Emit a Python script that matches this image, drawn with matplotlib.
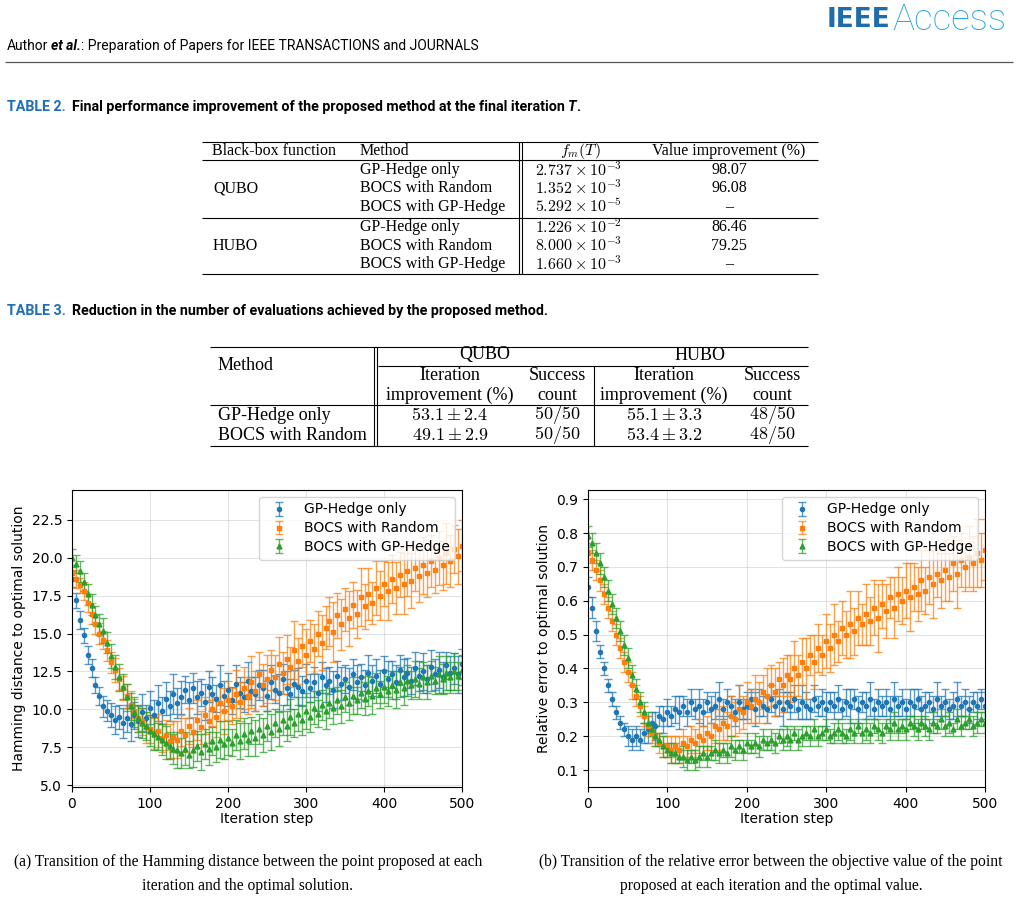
import matplotlib
matplotlib.use("Agg")
from matplotlib import pyplot as plt
from matplotlib.colors import to_rgba

plt.rcParams['mathtext.fontset'] = 'cm'

# iteration steps (sampled every 5 steps)
steps = list(range(0, 501, 5))

# Hamming distance to optimal solution
ham_gp = [18.6, 17.2, 15.9, 14.9, 13.6, 12.7, 11.6, 10.9, 10.2, 9.9,
          9.6, 9.3, 9.5, 9.1, 9.4, 9.0, 9.6, 9.2, 9.8, 9.4,
          10.1, 9.6, 10.4, 9.9, 10.7, 10.2, 11.0, 10.4, 10.8, 11.3,
          10.6, 11.4, 10.8, 11.1, 10.5, 11.5, 11.0, 10.7, 11.6, 10.9,
          11.3, 10.6, 11.7, 11.1, 10.8, 11.9, 11.2, 11.0, 11.6, 11.4,
          10.9, 11.8, 11.3, 11.1, 12.0, 11.4, 11.0, 11.7, 11.5, 11.2,
          11.9, 11.4, 11.8, 11.1, 12.1, 11.6, 11.9, 11.3, 12.2, 11.7,
          12.0, 11.5, 12.3, 11.8, 12.1, 11.6, 12.4, 11.9, 12.2, 11.7,
          12.5, 12.0, 12.3, 11.8, 12.6, 12.1, 12.4, 11.9, 12.7, 12.2,
          12.5, 12.0, 12.8, 12.3, 12.6, 12.1, 12.9, 12.4, 12.7, 12.3,
          13.0]
ham_gp_err = [0.5, 0.5, 0.6, 0.5, 0.6, 0.6, 0.5, 0.6, 0.7, 0.7,
              0.8, 0.9, 0.8, 1.0, 0.9, 1.1, 0.9, 1.0, 1.2, 0.9,
              1.1, 1.0, 1.2, 0.9, 1.1, 1.0, 1.3, 1.0, 1.1, 0.9,
              1.2, 1.0, 1.1, 0.9, 1.2, 1.0, 1.1, 0.9, 1.3, 1.0,
              1.1, 0.9, 1.2, 1.0, 1.0, 1.2, 0.9, 1.1, 1.0, 1.2,
              1.0, 1.1, 0.9, 1.2, 1.0, 1.1, 1.0, 0.9, 1.2, 1.0,
              1.1, 0.9, 1.0, 1.2, 1.0, 1.1, 0.9, 1.2, 1.0, 1.1,
              0.9, 1.2, 1.0, 1.1, 0.9, 1.0, 1.2, 1.0, 1.1, 0.9,
              1.0, 1.2, 0.9, 1.1, 1.0, 1.2, 1.0, 0.9, 1.1, 1.0,
              1.2, 0.9, 1.1, 1.0, 1.2, 1.0, 0.9, 1.1, 1.0, 1.2,
              1.0]
ham_rnd = [19.0, 18.6, 18.2, 17.8, 17.0, 16.3, 15.6, 15.0, 14.6, 13.9,
           13.1, 12.6, 12.0, 11.4, 10.9, 10.3, 9.9, 9.4, 9.2, 8.8,
           8.7, 8.4, 8.6, 8.1, 8.3, 7.9, 8.2, 8.0, 8.6, 8.3,
           8.9, 8.5, 9.3, 8.8, 9.6, 9.2, 10.0, 9.5, 10.4, 9.9,
           10.6, 10.2, 11.0, 10.5, 11.4, 10.9, 11.8, 11.2, 12.3, 11.6,
           12.0, 12.6, 12.1, 13.0, 12.4, 13.3, 12.8, 13.9, 13.2, 14.2,
           13.6, 14.5, 14.0, 15.0, 14.4, 15.4, 15.8, 15.1, 16.2, 15.6,
           16.6, 16.0, 16.9, 16.3, 17.4, 16.8, 17.6, 17.0, 18.0, 17.5,
           18.3, 17.8, 18.6, 18.0, 18.9, 18.3, 19.1, 18.5, 19.3, 18.8,
           19.5, 19.0, 19.8, 19.2, 20.0, 19.5, 20.3, 19.8, 20.6, 20.1,
           20.8]
ham_rnd_err = [0.5, 0.6, 0.5, 0.6, 0.6, 0.7, 0.6, 0.7, 0.6, 0.7,
               0.7, 0.8, 0.7, 0.8, 0.8, 0.9, 0.8, 0.9, 0.9, 1.0,
               0.9, 1.0, 1.1, 0.9, 1.0, 1.1, 1.0, 1.2, 1.0, 1.1,
               1.2, 1.0, 1.3, 1.1, 1.2, 1.4, 1.1, 1.3, 1.2, 1.5,
               1.3, 1.2, 1.6, 1.3, 1.4, 1.2, 1.7, 1.3, 1.5, 1.4,
               1.6, 1.3, 1.5, 1.8, 1.4, 1.6, 1.3, 1.9, 1.5, 1.4,
               1.7, 1.4, 1.6, 1.5, 1.8, 1.4, 1.6, 2.0, 1.5, 1.7,
               1.4, 1.8, 1.5, 1.6, 1.9, 1.5, 1.7, 1.4, 1.8, 1.6,
               1.5, 1.9, 1.6, 1.7, 1.5, 2.0, 1.6, 1.8, 1.5, 1.7,
               1.9, 1.6, 1.7, 1.5, 1.8, 1.6, 2.0, 1.7, 1.6, 1.8,
               1.7]
ham_bocs = [20.0, 19.6, 19.1, 18.4, 17.6, 16.9, 16.2, 15.6, 15.2, 14.4,
            13.5, 12.8, 12.1, 11.5, 10.8, 10.2, 9.8, 9.4, 9.1, 8.9,
            8.6, 8.4, 8.2, 8.0, 7.8, 7.6, 7.4, 7.3, 7.1, 7.4,
            7.0, 7.3, 7.6, 7.2, 7.7, 7.4, 7.9, 7.5, 8.0, 7.7,
            8.1, 7.8, 8.3, 7.9, 8.4, 8.0, 8.6, 8.1, 8.7, 8.3,
            8.9, 8.5, 9.1, 8.7, 9.3, 8.9, 9.5, 9.1, 9.7, 9.3,
            9.9, 9.5, 10.1, 9.7, 10.3, 9.9, 10.4, 10.1, 10.6, 10.2,
            10.8, 10.4, 10.9, 10.6, 11.1, 10.7, 11.2, 10.9, 11.4, 11.0,
            11.5, 11.2, 11.6, 11.3, 11.8, 11.4, 11.9, 11.6, 12.0, 11.7,
            12.1, 11.8, 12.2, 11.9, 12.3, 12.0, 12.4, 12.1, 12.5, 12.2,
            12.6]
ham_bocs_err = [0.6, 0.6, 0.7, 0.6, 0.7, 0.7, 0.6, 0.7, 0.8, 0.7,
                0.8, 0.8, 0.9, 0.8, 0.9, 0.9, 1.0, 0.9, 1.0, 0.9,
                1.0, 1.1, 0.9, 1.0, 1.1, 0.9, 1.0, 1.2, 1.0, 1.1,
                0.9, 1.1, 1.0, 1.2, 1.0, 1.1, 0.9, 1.0, 1.2, 1.0,
                1.1, 0.9, 1.0, 1.2, 1.0, 1.1, 0.9, 1.2, 1.0, 1.1,
                1.0, 1.2, 0.9, 1.1, 1.0, 1.0, 1.2, 0.9, 1.1, 1.0,
                1.2, 1.0, 1.1, 0.9, 1.0, 1.2, 1.0, 1.1, 0.9, 1.1,
                1.0, 1.1, 1.2, 0.9, 1.0, 1.1, 1.0, 1.2, 1.0, 0.9,
                1.1, 1.0, 0.9, 1.2, 1.0, 1.1, 1.0, 0.9, 1.2, 1.0,
                1.0, 1.1, 1.0, 0.9, 1.2, 1.0, 1.1, 1.0, 1.2, 0.9,
                1.0]

# relative error to optimal solution
rel_gp = [0.64, 0.58, 0.51, 0.45, 0.40, 0.35, 0.31, 0.27, 0.24, 0.22,
          0.20, 0.19, 0.20, 0.19, 0.21, 0.22, 0.24, 0.23, 0.26, 0.25,
          0.27, 0.26, 0.28, 0.27, 0.29, 0.27, 0.30, 0.28, 0.29, 0.27,
          0.30, 0.28, 0.29, 0.31, 0.28, 0.30, 0.29, 0.27, 0.30, 0.28,
          0.29, 0.31, 0.28, 0.30, 0.29, 0.28, 0.31, 0.29, 0.30, 0.28,
          0.30, 0.29, 0.31, 0.28, 0.30, 0.29, 0.28, 0.31, 0.29, 0.30,
          0.28, 0.30, 0.29, 0.31, 0.28, 0.30, 0.29, 0.31, 0.28, 0.30,
          0.29, 0.31, 0.28, 0.30, 0.29, 0.30, 0.28, 0.31, 0.29, 0.30,
          0.28, 0.30, 0.29, 0.31, 0.28, 0.29, 0.30, 0.28, 0.31, 0.29,
          0.30, 0.28, 0.29, 0.31, 0.29, 0.30, 0.28, 0.30, 0.29, 0.31,
          0.29]
rel_gp_err = [0.03, 0.03, 0.03, 0.02, 0.02, 0.02, 0.02, 0.02, 0.02, 0.02,
              0.03, 0.03, 0.03, 0.03, 0.03, 0.04, 0.03, 0.04, 0.03, 0.04,
              0.04, 0.03, 0.04, 0.05, 0.03, 0.04, 0.04, 0.03, 0.05, 0.04,
              0.03, 0.04, 0.04, 0.05, 0.03, 0.04, 0.03, 0.04, 0.05, 0.03,
              0.04, 0.03, 0.05, 0.04, 0.03, 0.04, 0.04, 0.03, 0.04, 0.05,
              0.03, 0.04, 0.04, 0.03, 0.05, 0.04, 0.03, 0.04, 0.03, 0.04,
              0.05, 0.03, 0.04, 0.04, 0.03, 0.04, 0.05, 0.03, 0.04, 0.03,
              0.04, 0.05, 0.03, 0.04, 0.03, 0.04, 0.04, 0.05, 0.03, 0.04,
              0.03, 0.04, 0.05, 0.03, 0.04, 0.04, 0.03, 0.04, 0.05, 0.03,
              0.04, 0.03, 0.04, 0.05, 0.03, 0.04, 0.04, 0.03, 0.04, 0.03,
              0.04]
rel_rnd = [0.74, 0.72, 0.69, 0.66, 0.62, 0.58, 0.54, 0.50, 0.46, 0.42,
           0.39, 0.35, 0.32, 0.29, 0.26, 0.23, 0.21, 0.20, 0.18, 0.17,
           0.17, 0.16, 0.17, 0.16, 0.18, 0.17, 0.19, 0.18, 0.20, 0.19,
           0.21, 0.20, 0.23, 0.22, 0.24, 0.23, 0.26, 0.25, 0.28, 0.27,
           0.30, 0.29, 0.31, 0.30, 0.33, 0.32, 0.35, 0.33, 0.37, 0.35,
           0.38, 0.37, 0.40, 0.38, 0.42, 0.40, 0.44, 0.42, 0.46, 0.44,
           0.48, 0.46, 0.50, 0.48, 0.52, 0.50, 0.53, 0.51, 0.55, 0.53,
           0.56, 0.54, 0.58, 0.55, 0.59, 0.57, 0.61, 0.58, 0.62, 0.60,
           0.63, 0.61, 0.64, 0.62, 0.66, 0.63, 0.67, 0.65, 0.68, 0.66,
           0.69, 0.67, 0.71, 0.68, 0.72, 0.70, 0.73, 0.71, 0.74, 0.72,
           0.75]
rel_rnd_err = [0.03, 0.03, 0.03, 0.03, 0.03, 0.03, 0.03, 0.03, 0.03, 0.03,
               0.03, 0.04, 0.03, 0.03, 0.03, 0.03, 0.03, 0.03, 0.03, 0.03,
               0.03, 0.04, 0.03, 0.04, 0.04, 0.03, 0.04, 0.04, 0.05, 0.04,
               0.05, 0.04, 0.05, 0.06, 0.05, 0.04, 0.06, 0.05, 0.07, 0.05,
               0.06, 0.05, 0.07, 0.06, 0.05, 0.08, 0.06, 0.07, 0.05, 0.08,
               0.06, 0.07, 0.08, 0.06, 0.07, 0.09, 0.06, 0.08, 0.07, 0.06,
               0.08, 0.07, 0.09, 0.06, 0.08, 0.07, 0.10, 0.07, 0.08, 0.06,
               0.09, 0.07, 0.08, 0.10, 0.07, 0.08, 0.06, 0.09, 0.08, 0.07,
               0.08, 0.10, 0.07, 0.08, 0.09, 0.07, 0.08, 0.10, 0.07, 0.08,
               0.09, 0.07, 0.08, 0.10, 0.08, 0.07, 0.09, 0.08, 0.10, 0.08,
               0.09]
rel_bocs = [0.79, 0.77, 0.74, 0.71, 0.67, 0.63, 0.59, 0.55, 0.51, 0.47,
            0.43, 0.38, 0.34, 0.30, 0.27, 0.24, 0.22, 0.20, 0.19, 0.17,
            0.16, 0.15, 0.15, 0.14, 0.14, 0.13, 0.14, 0.13, 0.14, 0.15,
            0.14, 0.15, 0.16, 0.15, 0.16, 0.15, 0.17, 0.16, 0.17, 0.16,
            0.18, 0.17, 0.18, 0.17, 0.19, 0.18, 0.19, 0.18, 0.20, 0.19,
            0.20, 0.19, 0.21, 0.19, 0.20, 0.21, 0.20, 0.22, 0.20, 0.21,
            0.22, 0.20, 0.21, 0.22, 0.21, 0.20, 0.22, 0.21, 0.23, 0.21,
            0.22, 0.21, 0.23, 0.22, 0.21, 0.23, 0.22, 0.24, 0.22, 0.23,
            0.22, 0.24, 0.23, 0.22, 0.24, 0.23, 0.22, 0.24, 0.23, 0.25,
            0.23, 0.24, 0.22, 0.25, 0.23, 0.24, 0.25, 0.23, 0.24, 0.25,
            0.24]
rel_bocs_err = [0.03, 0.03, 0.03, 0.03, 0.03, 0.03, 0.03, 0.03, 0.03, 0.03,
                0.03, 0.03, 0.03, 0.03, 0.03, 0.03, 0.02, 0.03, 0.02, 0.03,
                0.02, 0.03, 0.03, 0.02, 0.03, 0.03, 0.02, 0.03, 0.03, 0.02,
                0.03, 0.02, 0.03, 0.03, 0.02, 0.03, 0.03, 0.03, 0.02, 0.03,
                0.03, 0.02, 0.03, 0.03, 0.03, 0.02, 0.03, 0.03, 0.02, 0.03,
                0.03, 0.03, 0.02, 0.03, 0.03, 0.02, 0.03, 0.03, 0.03, 0.02,
                0.03, 0.02, 0.03, 0.03, 0.03, 0.02, 0.03, 0.03, 0.02, 0.03,
                0.03, 0.03, 0.02, 0.03, 0.03, 0.02, 0.03, 0.03, 0.03, 0.02,
                0.03, 0.02, 0.03, 0.03, 0.02, 0.03, 0.03, 0.03, 0.02, 0.03,
                0.03, 0.03, 0.02, 0.03, 0.03, 0.02, 0.03, 0.03, 0.03, 0.02,
                0.03]

methods = ["GP-Hedge only", "BOCS with Random", "BOCS with GP-Hedge"]
colors = ["tab:blue", "tab:orange", "tab:green"]
markers = [".", "s", "^"]
msizes = [6, 3.5, 3.5]

# table contents
t2_rows = [("GP-Hedge only", r"$2.737\times10^{-3}$", "98.07"),
           ("BOCS with Random", r"$1.352\times10^{-3}$", "96.08"),
           ("BOCS with GP-Hedge", r"$5.292\times10^{-5}$", "\u2013"),
           ("GP-Hedge only", r"$1.226\times10^{-2}$", "86.46"),
           ("BOCS with Random", r"$8.000\times10^{-3}$", "79.25"),
           ("BOCS with GP-Hedge", r"$1.660\times10^{-3}$", "\u2013")]
t3_rows = [("GP-Hedge only", r"$53.1\pm2.4$", r"$50/50$", r"$55.1\pm3.3$", r"$48/50$"),
           ("BOCS with Random", r"$49.1\pm2.9$", r"$50/50$", r"$53.4\pm3.2$", r"$48/50$")]

W, H = 1019, 907
fig = plt.figure(figsize=(W / 100, H / 100), dpi=100)

# page layer in pixel coordinates
pg = fig.add_axes([0, 0, 1, 1])
pg.set_xlim(0, W)
pg.set_ylim(H, 0)
pg.axis("off")
rend = fig.canvas.get_renderer()


def run(x, y, parts, **kw):
    for s, st in parts:
        if s is None:
            x += st
            continue
        t = pg.text(x, y, s, va="center", ha="left", **kw, **st)
        x += t.get_window_extent(renderer=rend).width


def hline(y, x0, x1, lw=0.8, c="black"):
    pg.plot([x0, x1], [y, y], color=c, lw=lw, solid_capstyle="butt")


def vline(x, y0, y1, lw=0.8):
    pg.plot([x, x], [y0, y1], color="black", lw=lw, solid_capstyle="butt")


# header
pg.text(890, 20, "IEEE", ha="right", va="center", fontsize=19, fontweight="bold",
        color="#1f6cab", family="DejaVu Sans")
pg.text(892, 20, "Access", ha="left", va="center", fontsize=26.5, fontweight="light",
        color="#28a6de", family="Roboto")
sans = dict(family="Roboto", fontsize=10)
run(7, 46, [("Author", {}), (None, 3), ("et al.", dict(fontweight="bold", style="italic")),
            (": Preparation of Papers for IEEE TRANSACTIONS and JOURNALS", {})], **sans)
hline(62, 5, 1013, lw=0.9, c="#555555")

blue = "#1f6fb5"
capt = dict(family="Roboto", fontsize=10.3, fontweight="bold")
run(7, 107, [("TABLE 2.", dict(color=blue)), (None, 6),
             ("Final performance improvement of the proposed method at the final iteration", {}),
             (None, 3), ("T", dict(style="italic")), (".", {})], **capt)
run(7, 311, [("TABLE 3.", dict(color=blue)), (None, 6),
             ("Reduction in the number of evaluations achieved by the proposed method.", {})], **capt)

# table 2
serif = dict(family="Liberation Serif", fontsize=11.5, va="center")
for y in (142, 160, 218, 274):
    hline(y, 202, 818)
vline(519, 142, 274)
vline(522, 142, 274)
pg.text(212, 151, "Black-box function", ha="left", **serif)
pg.text(360, 151, "Method", ha="left", **serif)
pg.text(580, 151, r"$f_m(T)$", ha="center", **serif)
pg.text(729, 151, "Value improvement (%)", ha="center", **serif)
pg.text(213, 188.5, "QUBO", ha="left", **serif)
pg.text(213, 245.5, "HUBO", ha="left", **serif)
for (m, f, v), y in zip(t2_rows, [170, 188.5, 207, 227, 245.5, 264]):
    pg.text(360, y, m, ha="left", **serif)
    pg.text(535, y, f, ha="left", **serif)
    pg.text(729, y, v, ha="center", **serif)

# table 3
serif3 = dict(family="Liberation Serif", fontsize=13, va="center")
hline(347, 210, 808)
hline(366, 378, 808)
hline(405, 210, 808)
hline(446, 210, 808)
vline(374, 347, 446)
vline(377, 347, 446)
vline(594, 366, 446)
pg.text(218, 365, "Method", ha="left", **serif3)
pg.text(485, 355, "QUBO", ha="center", **serif3)
pg.text(700, 355, "HUBO", ha="center", **serif3)
for cx in (450, 664):
    pg.text(cx, 376, "Iteration", ha="center", **serif3)
    pg.text(cx, 395, "improvement (%)", ha="center", **serif3)
for cx in (557, 772):
    pg.text(cx, 376, "Success", ha="center", **serif3)
    pg.text(cx, 395, "count", ha="center", **serif3)
for row, y in zip(t3_rows, [415, 435]):
    pg.text(218, y, row[0], ha="left", **serif3)
    for s, cx in zip(row[1:], (450, 557, 664, 772)):
        pg.text(cx, y, s, ha="center", **serif3)

# plots
ax1 = fig.add_axes([72 / W, 1 - 787 / H, 390 / W, 297 / H])
ax2 = fig.add_axes([588 / W, 1 - 787 / H, 397 / W, 297 / H])

for ax, data in ((ax1, [(ham_gp, ham_gp_err), (ham_rnd, ham_rnd_err), (ham_bocs, ham_bocs_err)]),
                 (ax2, [(rel_gp, rel_gp_err), (rel_rnd, rel_rnd_err), (rel_bocs, rel_bocs_err)])):
    for (m, e), lab, c, mk, ms in zip(data, methods, colors, markers, msizes):
        ax.errorbar(steps, m, yerr=e, fmt=mk, color=c, ms=ms, ecolor=to_rgba(c, 0.75),
                    elinewidth=1, capsize=3, capthick=1, label=lab)
    ax.set_xlim(0, 500)
    ax.set_xticks([0, 100, 200, 300, 400, 500])
    ax.grid(True, color="#b0b0b0", alpha=0.35, lw=0.8)
    ax.set_xlabel("Iteration step", fontsize=10, labelpad=1)
    ax.tick_params(labelsize=10)
    ax.legend(loc="upper right", fontsize=10, labelspacing=0.35)

ax1.set_ylim(4.87, 24.48)
ax1.set_yticks([5.0, 7.5, 10.0, 12.5, 15.0, 17.5, 20.0, 22.5])
ax1.set_ylabel("Hamming distance to optimal solution", fontsize=10)
ax2.set_ylim(0.05, 0.927)
ax2.set_yticks([0.1, 0.2, 0.3, 0.4, 0.5, 0.6, 0.7, 0.8, 0.9])
ax2.set_ylabel("Relative error to optimal solution", fontsize=10)

# figure captions
cap = dict(family="Liberation Serif", fontsize=11.2, va="center", ha="center")
pg.text(248, 862, "(a) Transition of the Hamming distance between the point proposed at each", **cap)
pg.text(248, 886, "iteration and the optimal solution.", **cap)
pg.text(771, 862, "(b) Transition of the relative error between the objective value of the point", **cap)
pg.text(771, 886, "proposed at each iteration and the optimal value.", **cap)

fig.savefig("out.png", dpi=100)
